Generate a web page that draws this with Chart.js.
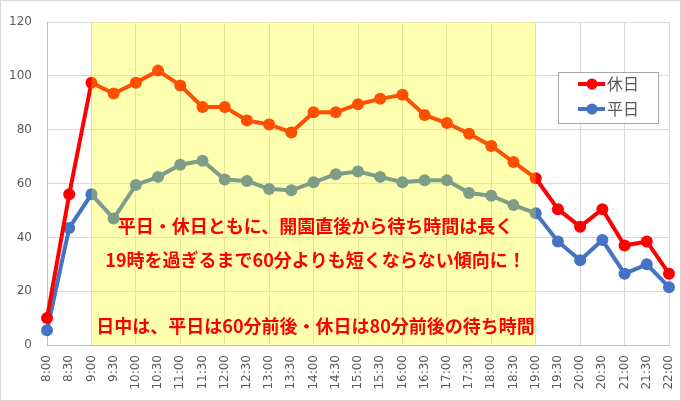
<!DOCTYPE html>
<html>
<head>
<meta charset="utf-8">
<script src="https://cdn.jsdelivr.net/npm/chart.js@4"></script>
<style>
  html, body { margin: 0; padding: 0; background: #fff; }
  #wrap { width: 681px; height: 401px; }
</style>
</head>
<body>
<div id="wrap"><canvas id="waitChart" width="681" height="401"></canvas></div>
<script>
// 時刻（30分おき）
const times = ['8:00', '8:30', '9:00', '9:30', '10:00', '10:30', '11:00', '11:30', '12:00', '12:30',
  '13:00', '13:30', '14:00', '14:30', '15:00', '15:30', '16:00', '16:30', '17:00', '17:30',
  '18:00', '18:30', '19:00', '19:30', '20:00', '20:30', '21:00', '21:30', '22:00'];

// 休日の待ち時間（分）
const holiday = [10, 56, 97.5, 93.5, 97.5, 102, 96.5, 88.5, 88.5, 83.5,
  82, 79, 86.5, 86.5, 89.5, 91.5, 93, 85.5, 82.5, 78.5,
  74, 68, 62, 50.5, 44, 50.5, 37, 38.5, 26.5];

// 平日の待ち時間（分）
const weekday = [5.5, 43.5, 56, 47, 59.5, 62.5, 67, 68.5, 61.5, 61,
  58, 57.5, 60.5, 63.5, 64.5, 62.5, 60.5, 61.2, 61.2, 56.5,
  55.5, 52, 49, 38.5, 31.5, 39, 26.5, 30, 21.5];

const yTicks = [0, 20, 40, 60, 80, 100, 120];

const seriesNames = ['休日', '平日'];
const seriesColors = ['#FF0000', '#4472C4'];

// 日中の時間帯（黄色の帯）
const bandFrom = '9:00';
const bandTo = '19:00';

const notes = [
  '平日・休日ともに、開園直後から待ち時間は長く',
  '19時を過ぎるまで60分よりも短くならない傾向に！',
  '日中は、平日は60分前後・休日は80分前後の待ち時間'
];

const jpFont = '"Noto Sans CJK JP", "Noto Sans", sans-serif';
const numFont = '"DejaVu Sans", sans-serif';

// 外枠と背景
const frame = {
  id: 'frame',
  beforeDraw(chart) {
    const c = chart.ctx;
    c.save();
    c.fillStyle = '#fff';
    c.fillRect(0, 0, chart.width, chart.height);
    c.strokeStyle = '#D9D9D9';
    c.lineWidth = 1;
    c.strokeRect(0.5, 0.5, chart.width - 1, chart.height - 1);
    c.restore();
  }
};

// 半透明の黄色い帯（線の上に重ねる）
const band = {
  id: 'band',
  afterDatasetsDraw(chart) {
    const c = chart.ctx;
    const x = chart.scales.x;
    const area = chart.chartArea;
    const x1 = x.getPixelForValue(times.indexOf(bandFrom));
    const x2 = x.getPixelForValue(times.indexOf(bandTo));
    c.save();
    c.fillStyle = 'rgba(255, 255, 0, 0.31)';
    c.fillRect(x1, area.top, x2 - x1, area.bottom - area.top);
    c.restore();
  }
};

// 注釈テキストと凡例
const extras = {
  id: 'extras',
  afterDraw(chart) {
    const c = chart.ctx;
    const x = chart.scales.x;
    const y = chart.scales.y;
    const cx = (x.getPixelForValue(times.indexOf(bandFrom)) + x.getPixelForValue(times.indexOf(bandTo))) / 2 + 2;
    const noteY = [44, 31.5, 7];

    c.save();
    c.fillStyle = '#FF0000';
    c.font = 'bold 18px ' + jpFont;
    c.textAlign = 'center';
    c.textBaseline = 'middle';
    notes.forEach((t, i) => c.fillText(t, cx, y.getPixelForValue(noteY[i])));

    // 凡例
    const lx = 558, ly = 72, lw = 100, lh = 51;
    c.fillStyle = '#fff';
    c.fillRect(lx, ly, lw, lh);
    c.strokeStyle = '#A6A6A6';
    c.lineWidth = 1;
    c.strokeRect(lx + 0.5, ly + 0.5, lw, lh);
    c.font = '16px ' + jpFont;
    c.textAlign = 'left';
    seriesNames.forEach((name, i) => {
      const ry = ly + 12 + i * 25;
      c.strokeStyle = seriesColors[i];
      c.lineWidth = 4;
      c.beginPath();
      c.moveTo(lx + 20, ry);
      c.lineTo(lx + 47, ry);
      c.stroke();
      c.fillStyle = seriesColors[i];
      c.beginPath();
      c.arc(lx + 34, ry, 5.5, 0, Math.PI * 2);
      c.fill();
      c.fillStyle = '#595959';
      c.fillText(name, lx + 49, ry);
    });
    c.restore();
  }
};

const ctx = document.getElementById('waitChart').getContext('2d');
new Chart(ctx, {
  type: 'line',
  data: {
    labels: times,
    datasets: [
      {
        label: seriesNames[0],
        data: holiday,
        borderColor: seriesColors[0],
        backgroundColor: seriesColors[0],
        pointBackgroundColor: seriesColors[0],
        pointBorderColor: seriesColors[0],
        borderWidth: 4,
        pointRadius: 6,
        pointBorderWidth: 0,
        tension: 0,
        fill: false
      },
      {
        label: seriesNames[1],
        data: weekday,
        borderColor: seriesColors[1],
        backgroundColor: seriesColors[1],
        pointBackgroundColor: seriesColors[1],
        pointBorderColor: seriesColors[1],
        borderWidth: 4,
        pointRadius: 6,
        pointBorderWidth: 0,
        tension: 0,
        fill: false
      }
    ]
  },
  options: {
    responsive: false,
    animation: false,
    layout: { padding: { left: 0, top: 15, right: 12, bottom: 0 } },
    plugins: {
      legend: { display: false },
      tooltip: { enabled: false }
    },
    scales: {
      x: {
        offset: false,
        afterFit: (s) => {
          s.height = 56;
          s.paddingLeft = 0;
          s.paddingRight = 0;
        },
        grid: {
          color: (c) => (c.index % 2 === 0 ? '#D9D9D9' : 'rgba(0,0,0,0)'),
          drawTicks: false
        },
        border: { color: '#BFBFBF' },
        ticks: {
          autoSkip: false,
          minRotation: 90,
          maxRotation: 90,
          padding: 10,
          color: '#595959',
          font: { family: numFont, size: 12 }
        }
      },
      y: {
        min: 0,
        max: 120,
        afterFit: (s) => { s.width = 47; },
        afterBuildTicks: (s) => { s.ticks = yTicks.map(v => ({ value: v })); },
        grid: { color: '#D9D9D9', drawTicks: false },
        border: { color: '#BFBFBF' },
        ticks: {
          padding: 15,
          color: '#595959',
          font: { family: numFont, size: 12 }
        }
      }
    }
  },
  plugins: [frame, band, extras]
});
</script>
</body>
</html>
